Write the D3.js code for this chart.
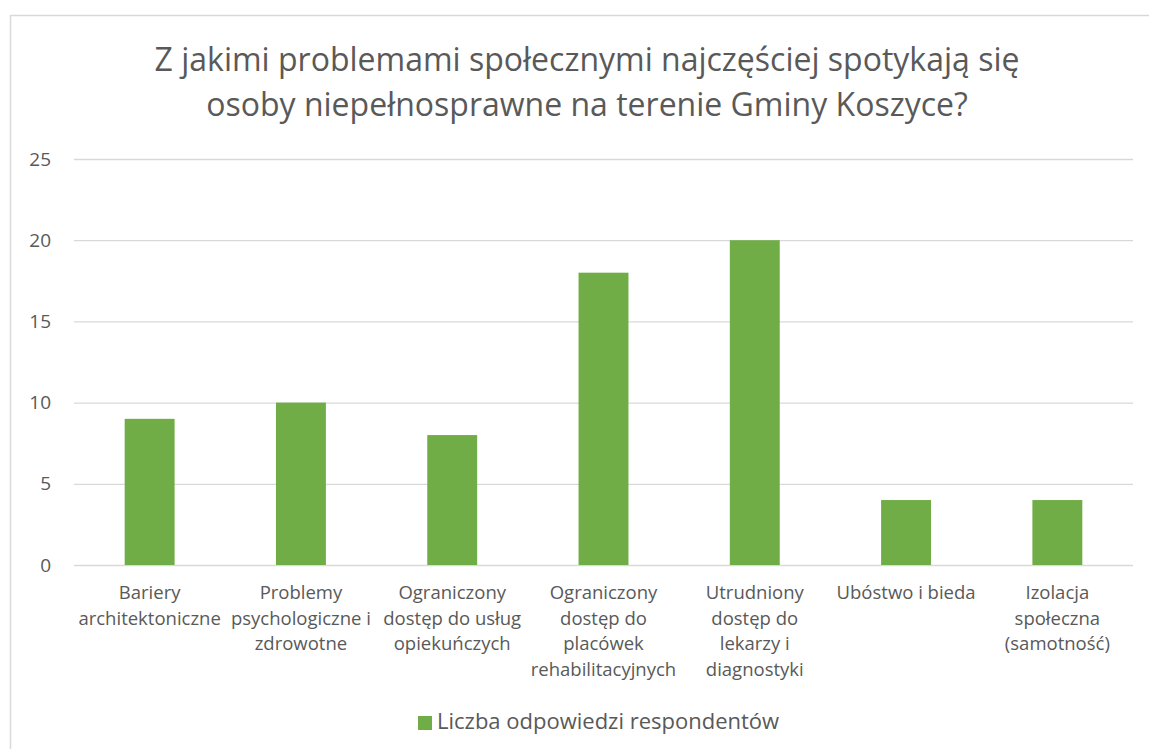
<!DOCTYPE html>
<html>
<head>
<meta charset="utf-8">
<script src="https://cdn.jsdelivr.net/npm/d3@7"></script>
<style>
  body { margin: 0; background: #fff; }
  svg text { font-family: "Open Sans", "Noto Sans", sans-serif; fill: #595959; }
</style>
</head>
<body>
<svg id="chart" width="1149" height="749"></svg>
<script>
// chart data
const categories = [
    ["Bariery", "architektoniczne"],
    ["Problemy", "psychologiczne i", "zdrowotne"],
    ["Ograniczony", "dostęp do usług", "opiekuńczych"],
    ["Ograniczony", "dostęp do", "placówek", "rehabilitacyjnych"],
    ["Utrudniony", "dostęp do", "lekarzy i", "diagnostyki"],
    ["Ubóstwo i bieda"],
    ["Izolacja", "społeczna", "(samotność)"]
];
const values = [9, 10, 8, 18, 20, 4, 4];
const yTicks = [0, 5, 10, 15, 20, 25];
const titleLines = [
    "Z jakimi problemami społecznymi najczęściej spotykają się",
    "osoby niepełnosprawne na terenie Gminy Koszyce?"
];
const seriesName = "Liczba odpowiedzi respondentów";

let svg = d3.select("#chart");

// outer chart frame
svg.append("rect")
    .attr("x", 10.5).attr("y", 15.5)
    .attr("width", 1160).attr("height", 760)
    .attr("fill", "none")
    .attr("stroke", "#d9d9d9")
    .attr("stroke-width", 1.5);

let plot = { left: 74, right: 1133, top: 159, bottom: 565 };

let x = d3.scaleBand()
    .domain(d3.range(categories.length))
    .range([plot.left, plot.right])
    .paddingInner(0.67)
    .paddingOuter(0.335);
let y = d3.scaleLinear().domain([0, 25]).range([plot.bottom, plot.top]);

// title
svg.append("text")
    .attr("text-anchor", "middle")
    .style("font-size", "32px")
    .selectAll("tspan")
    .data(titleLines)
    .enter()
        .append("tspan")
        .attr("x", 587)
        .attr("y", (d, i) => 71 + i * 45)
        .text(d => d);

// gridlines + y labels
let yAxis = svg.append("g")
    .attr("transform", `translate(${plot.left},0)`)
    .call(d3.axisLeft(y).tickValues(yTicks).tickSize(-(plot.right - plot.left)));
yAxis.select(".domain").remove();
yAxis.selectAll(".tick line").attr("stroke", "#d9d9d9").attr("stroke-width", 1.3);
yAxis.selectAll(".tick text")
    .style("font-size", "19px")
    .attr("fill", "#595959")
    .attr("text-anchor", "end")
    .attr("x", -23);

// bars
svg.append("g").selectAll("rect")
    .data(values)
    .enter()
        .append("rect")
        .attr("x", (d, i) => x(i))
        .attr("y", d => y(d))
        .attr("width", x.bandwidth())
        .attr("height", d => y(0) - y(d))
        .attr("fill", "#70ad47");

// x category labels
svg.append("g").selectAll("text")
    .data(categories)
    .enter()
        .append("text")
        .attr("text-anchor", "middle")
        .style("font-size", "18.5px")
        .each(function(lines, i) {
            d3.select(this).selectAll("tspan")
                .data(lines)
                .enter()
                    .append("tspan")
                    .attr("x", x(i) + x.bandwidth() / 2)
                    .attr("y", (d, j) => 599 + j * 25.5)
                    .text(d => d);
        });

// legend
let legend = svg.append("g").attr("transform", "translate(418,729)");
legend.append("rect")
    .attr("x", 0).attr("y", -13)
    .attr("width", 14).attr("height", 14)
    .attr("fill", "#70ad47");
legend.append("text")
    .attr("x", 19).attr("y", 0)
    .style("font-size", "22px")
    .text(seriesName);
</script>
</body>
</html>
